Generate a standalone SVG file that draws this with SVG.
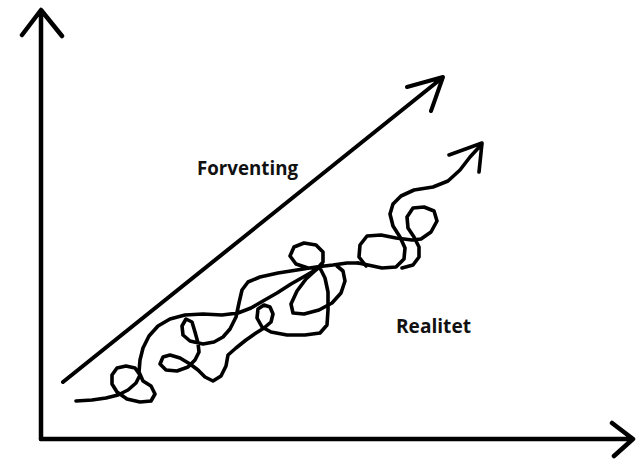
<svg xmlns="http://www.w3.org/2000/svg" width="636" height="460" viewBox="0 0 636 460">
<style>
.ink{fill:none;stroke:#000;stroke-linecap:round;stroke-linejoin:round}
.axis{stroke-width:4.5}
.line{stroke-width:4}
.squig{stroke-width:3.6}
.lbl{font-family:"Open Sans","Liberation Sans",Arial,sans-serif;font-weight:700;font-size:19px;fill:#111}
</style>
<rect width="636" height="460" fill="#fff"/>
<g id="axes">
<path class="ink axis" d="M41,439 L41,11 M22,35 L41,10 L62,36"/>
<path class="ink axis" d="M41,439 L632,439 M612,423 L633,439 L614,456"/>
</g>
<g id="connectors">
<g id="expectation">
<path class="ink line" d="M63,382 L442,78 M407,87 L443,77 L431,111"/>
</g>
<g id="reality">
<path class="ink squig" d="M76,401 L92,400 L106,398 L118,395 L128,390 L136,383 L140,375 L135,368 L126,366 L117,368 L112,375 L112,384 L117,392 L127,399 L140,402 L151,401 L155,394 L151,386 L143,381 L139,372 L140,360 L143,348 L149,336 L158,326 L170,319 L185,315 L203,314 L222,315 L238,313 L251,308 L263,301 L277,293 L291,284 L305,276 L317,269 L323,262 L323,252 L316,245 L304,243 L294,247 L290,256 L296,264 L308,268 L320,268 L325,278 L328,292 L328,310 L327,325 L320,333 L305,335 L287,335 L271,332 L262,327 L257,318 L258,309 L264,305 L270,307 L273,314 L271,322 L264,328 L256,333 L246,340 L236,348 L228,355 L226,366 L221,376 L213,381 L205,377 L198,370 L190,364 L180,358 L170,355 L163,357 L160,364 L166,370 L177,371 L188,367 L195,360 L199,352 L198,343 L195,332 L192,322 L186,319 L182,326 L183,335 L190,341 L203,344 L214,342 L223,337 L230,329 L236,317 L239,303 L242,290 L248,282 L260,277 L278,273 L297,270 L316,267 L333,265 L347,263 L358,263"/>
<path class="ink squig" d="M317,269 L306,279 L297,291 L291,304 L293,313 L304,314 L319,310 L332,303 L341,293 L345,281 L343,271 L337,266"/>
<path class="ink squig" d="M358,263 L368,265 L382,268 L396,267 L404,259 L405,248 L400,237 L393,226 L390,214 L393,204 L401,196 L414,190 L433,187 L448,181 L460,170 L470,157 L482,144 M449,155 L482,143 L479,172"/>
<path class="ink squig" d="M366,266 L359,257 L360,245 L367,236 L381,235 L396,238 L412,240 L421,239 L431,232 L437,221 L434,211 L424,207 L413,208 L407,217 L408,228 L414,237 L419,247 L419,257 L413,265 L402,268"/>
</g>
</g>
<g id="labels">
<text id="forventing" class="lbl" x="197" y="175" textLength="101" lengthAdjust="spacingAndGlyphs">Forventing</text>
<text id="realitet" class="lbl" x="396" y="333" textLength="75" lengthAdjust="spacingAndGlyphs">Realitet</text>
</g>
</svg>
